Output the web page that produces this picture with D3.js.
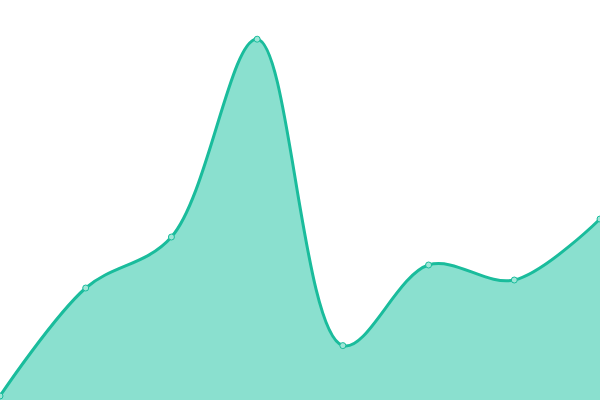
<!DOCTYPE html>
<html>
<head>
<meta charset="utf-8">
<script src="https://cdn.jsdelivr.net/npm/d3@7"></script>
<style>
  html, body { margin: 0; padding: 0; background: #ffffff; }
  svg { display: block; }
</style>
</head>
<body>
<svg id="chart" width="600" height="400"></svg>
<script>
const labels = ["P1", "P2", "P3", "P4", "P5", "P6", "P7", "P8"];
const values = [1, 28, 40.75, 90.2, 13.6, 33.75, 30, 45.25];
const yDomain = [0, 100];

const width = 600, height = 400;
const svg = d3.select("#chart");

const x = d3.scalePoint().domain(labels).range([0, width]);
const y = d3.scaleLinear().domain(yDomain).range([height, 0]);

const data = labels.map((l, i) => ({ label: l, value: values[i] }));

const curve = d3.curveCatmullRom.alpha(0.5);

const area = d3.area()
  .x(d => x(d.label))
  .y0(height)
  .y1(d => y(d.value))
  .curve(curve);

const line = d3.line()
  .x(d => x(d.label))
  .y(d => y(d.value))
  .curve(curve);

svg.append("path")
  .datum(data)
  .attr("d", area)
  .attr("fill", "#8ae0cf");

svg.append("path")
  .datum(data)
  .attr("d", line)
  .attr("fill", "none")
  .attr("stroke", "#1abc9c")
  .attr("stroke-width", 3);

svg.selectAll("circle.pt")
  .data(data)
  .enter()
  .append("circle")
  .attr("class", "pt")
  .attr("cx", d => x(d.label))
  .attr("cy", d => y(d.value))
  .attr("r", 3)
  .attr("fill", "#9fe6d7")
  .attr("stroke", "#1abc9c")
  .attr("stroke-width", 1);
</script>
</body>
</html>
